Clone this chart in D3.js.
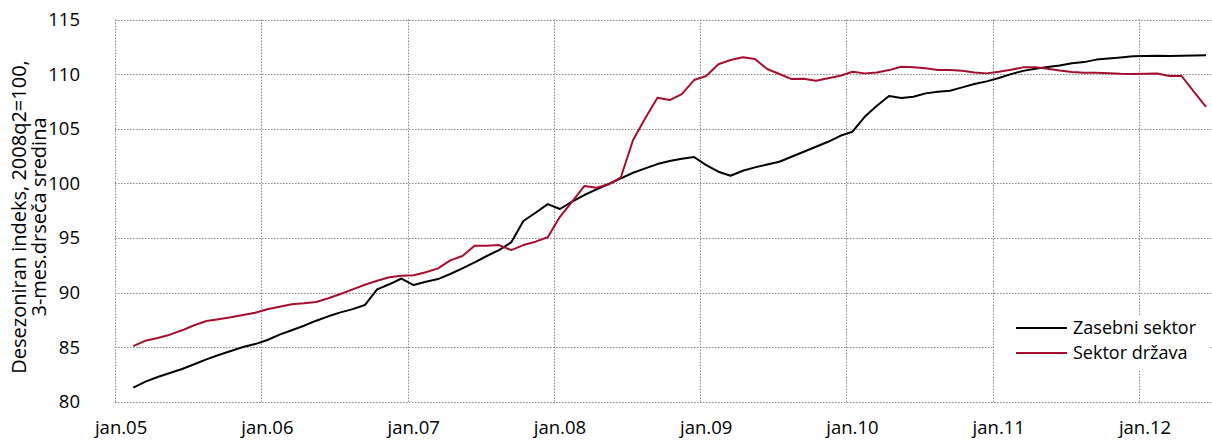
<!DOCTYPE html>
<html>
<head>
<meta charset="utf-8">
<script src="https://cdn.jsdelivr.net/npm/d3@7"></script>
<style>
  html, body { margin: 0; padding: 0; background: #fff; }
  svg { display: block; }
  text { font-family: "Open Sans", "Liberation Sans", sans-serif; fill: #000; }
</style>
</head>
<body>
<svg id="chart" width="1212" height="440"></svg>
<script>
// month index 0 = jan.05
const startIndex = 1;
const zasebniSektor = [
  81.31, 81.86, 82.29, 82.65, 83.02, 83.45, 83.90, 84.30, 84.67, 85.03, 85.30,
  85.67, 86.16, 86.56, 86.98, 87.44, 87.84, 88.20, 88.50, 88.87, 90.31, 90.77, 91.30,
  90.70, 91.00, 91.25, 91.71, 92.23, 92.78, 93.36, 93.90, 94.60, 96.56, 97.32, 98.10,
  97.66, 98.33, 98.94, 99.46, 99.95, 100.46, 100.98, 101.38, 101.77, 102.05, 102.26, 102.42,
  101.68, 101.07, 100.70, 101.16, 101.47, 101.74, 101.98, 102.44, 102.90, 103.36, 103.81, 104.36,
  104.73, 106.10, 107.10, 108.00, 107.81, 107.93, 108.24, 108.39, 108.48, 108.79, 109.09, 109.34,
  109.65, 110.00, 110.30, 110.50, 110.65, 110.80, 111.00, 111.10, 111.33, 111.43, 111.53, 111.63,
  111.67, 111.68, 111.66, 111.68, 111.70, 111.72
];
const sektorDrzava = [
  85.12, 85.61, 85.86, 86.16, 86.56, 87.02, 87.41, 87.57, 87.75, 87.96, 88.17,
  88.48, 88.72, 88.94, 89.03, 89.15, 89.49, 89.88, 90.31, 90.73, 91.10, 91.41, 91.55,
  91.59, 91.87, 92.23, 92.96, 93.36, 94.30, 94.30, 94.36, 93.90, 94.36, 94.67, 95.07,
  96.95, 98.33, 99.76, 99.61, 99.92, 100.56, 103.97, 105.96, 107.84, 107.63, 108.18, 109.46,
  109.83, 110.90, 111.29, 111.54, 111.38, 110.47, 110.01, 109.55, 109.58, 109.40, 109.62, 109.85,
  110.22, 110.07, 110.16, 110.37, 110.68, 110.62, 110.53, 110.37, 110.37, 110.31, 110.16, 110.07,
  110.22, 110.40, 110.62, 110.62, 110.50, 110.33, 110.20, 110.13, 110.12, 110.08, 110.03, 110.01,
  110.03, 110.06, 109.83, 109.83, 108.40, 107.00
];
const yTicks = [80, 85, 90, 95, 100, 105, 110, 115];
const xTickLabels = ["jan.05", "jan.06", "jan.07", "jan.08", "jan.09", "jan.10", "jan.11", "jan.12"];
const seriesNames = ["Zasebni sektor", "Sektor država"];
const seriesColors = ["#000000", "#A50F2D"];
const yTitleLines = ["Desezoniran indeks, 2008q2=100,", "3-mes.drseča sredina"];

(function () {
const svg = d3.select("#chart");
const pLeft = 115, pTop = 19.5, pBottom = 402, pRight = 1212.1;
const nMonths = 90;

const x = d3.scaleLinear().domain([0, nMonths]).range([pLeft, pRight]);
const y = d3.scaleLinear().domain([80, 115]).range([pBottom, pTop]);

const gridColor = "#8c8c8c";
const dash = "1.6,1.4";

svg.append("g").selectAll("line").data(yTicks).join("line")
  .attr("x1", pLeft).attr("x2", pRight)
  .attr("y1", d => Math.round(y(d)) + 0.5).attr("y2", d => Math.round(y(d)) + 0.5)
  .attr("stroke", gridColor).attr("stroke-width", 1).attr("stroke-dasharray", dash);

const yearStarts = xTickLabels.map((d, i) => i * 12);
svg.append("g").selectAll("line").data(yearStarts).join("line")
  .attr("x1", d => Math.round(x(d)) + 0.5).attr("x2", d => Math.round(x(d)) + 0.5)
  .attr("y1", pTop).attr("y2", pBottom)
  .attr("stroke", gridColor).attr("stroke-width", 1).attr("stroke-dasharray", dash);

const yAxis = d3.axisLeft(y).tickValues(yTicks).tickSize(0).tickPadding(0);
const gy = svg.append("g").attr("transform", `translate(${pLeft - 35},0)`).call(yAxis);
gy.select(".domain").remove();
gy.selectAll("text").attr("font-size", 18.5).attr("font-family", "'Open Sans', sans-serif").attr("fill", "#000");

const gx = svg.append("g");
gx.selectAll("text").data(xTickLabels).join("text")
  .attr("x", (d, i) => x(i * 12 + 0.5))
  .attr("y", 434)
  .attr("text-anchor", "middle")
  .attr("font-size", 18.5)
  .text(d => d);

const yTitle = svg.append("text")
  .attr("transform", `translate(26,217) rotate(-90)`)
  .attr("text-anchor", "middle")
  .attr("font-size", 20);
yTitle.selectAll("tspan").data(yTitleLines).join("tspan")
  .attr("x", 0).attr("dy", (d, i) => i === 0 ? 0 : 20)
  .text(d => d);

const line = d3.line()
  .x((d, i) => x(startIndex + i + 0.5))
  .y(d => y(d));

[zasebniSektor, sektorDrzava].forEach((s, k) => {
  svg.append("path").datum(s)
    .attr("d", line)
    .attr("fill", "none")
    .attr("stroke", seriesColors[k])
    .attr("stroke-width", 2)
    .attr("stroke-linejoin", "round");
});

const lg = svg.append("g");
lg.append("rect").attr("x", 994).attr("y", 315).attr("width", 215).attr("height", 55).attr("fill", "#fff");
seriesNames.forEach((name, k) => {
  const ly = 328 + k * 25;
  lg.append("line").attr("x1", 1016).attr("x2", 1067).attr("y1", ly).attr("y2", ly)
    .attr("stroke", seriesColors[k]).attr("stroke-width", 2);
  lg.append("text").attr("x", 1073).attr("y", ly).attr("dy", "0.35em")
    .attr("font-size", 18).text(name);
});
})();
</script>
</body>
</html>
